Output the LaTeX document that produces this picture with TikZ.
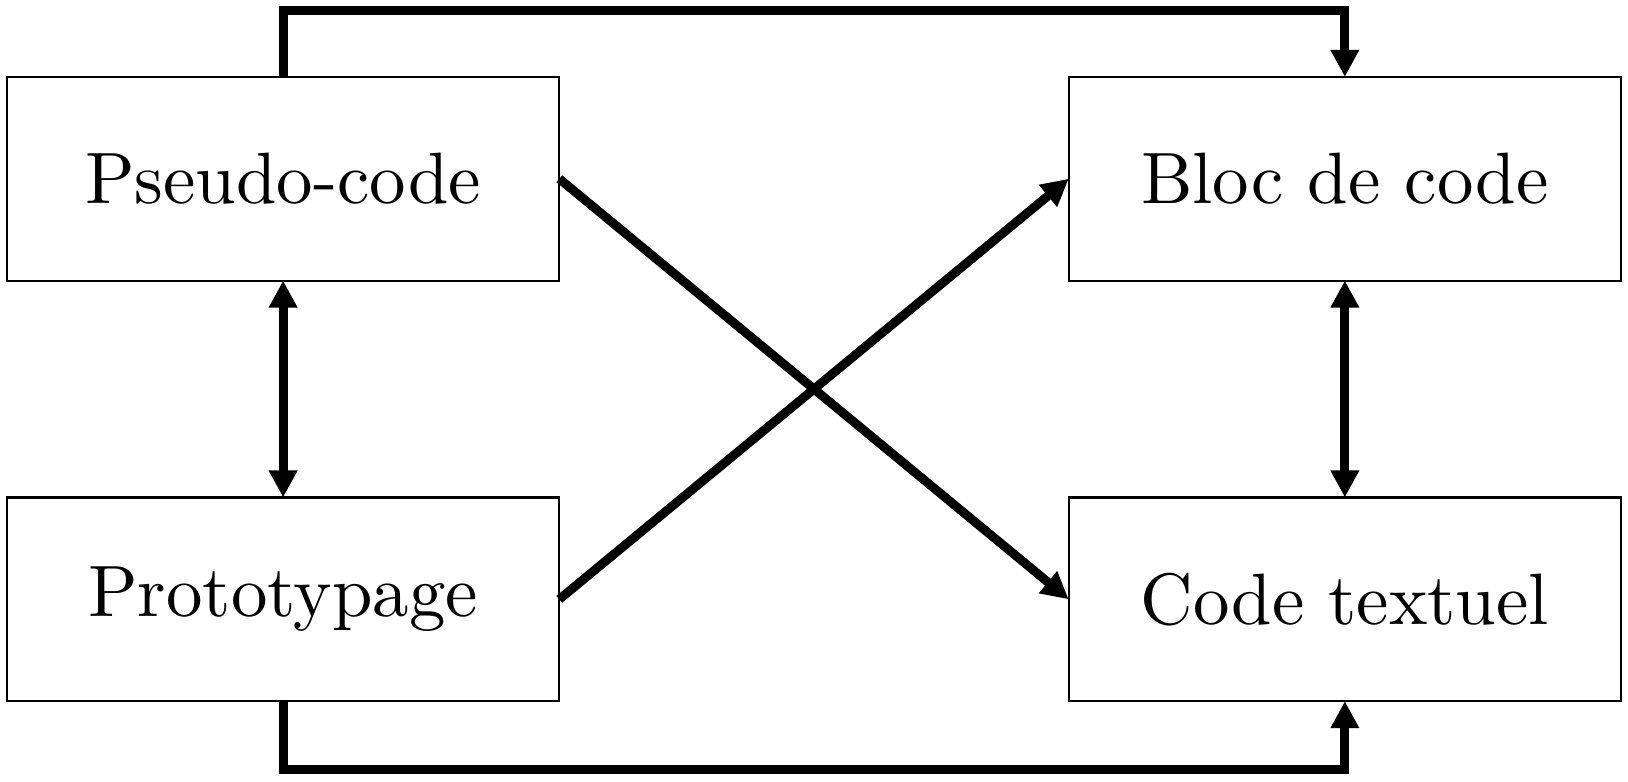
\documentclass[tikz,border=0pt]{standalone}
\usetikzlibrary{positioning}
\usetikzlibrary{arrows.meta}
\usetikzlibrary{calc}
\font\stagefont="[lmroman10-regular]:mapping=tex-text" at 20.74pt

\begin{document}
\begin{tikzpicture}[
  every matrix/.style={ampersand replacement=\&,inner sep=0pt,outer sep=0pt,column sep=5.08cm,row sep=2.15cm},
  stage/.style={draw,semithick,minimum width=5.53cm,minimum height=2.04cm,font=\stagefont},
  link/.style={-{Triangle[length=2.7mm,width=2.7mm]},line width=0.09cm},
  twoway/.style={{Triangle[length=2.7mm,width=2.7mm]}-{Triangle[length=2.7mm,width=2.7mm]},line width=0.09cm},
  every node/.style={align=center}]

  \matrix{
    \node[stage] (pseudo) {Pseudo-code}; \&
    \node[stage] (bloc) {Bloc de code}; \\
    \node[stage] (proto) {Prototypage}; \&
    \node[stage] (textuel) {Code textuel}; \\
  };

  \useasboundingbox ($(pseudo.north west)+(-0.07,0.77)$) rectangle
      ($(textuel.south east)+(0.07,-0.80)$);

  \draw[twoway] (pseudo.south) -- (proto.north);
  \draw[twoway] (bloc.south) -- (textuel.north);

  \draw[link] (pseudo.east) -- (textuel.west);
  \draw[link] (proto.east) -- (bloc.west);

  \draw[link] (pseudo.north) -- ++(0,0.665) -| (bloc.north);
  \draw[link] (proto.south) -- ++(0,-0.68) -| (textuel.south);
\end{tikzpicture}
\end{document}
